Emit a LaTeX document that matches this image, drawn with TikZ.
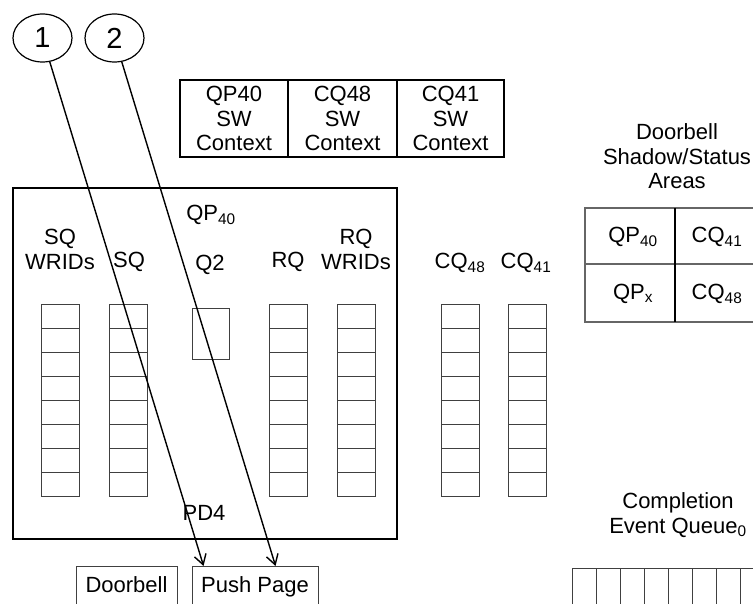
\documentclass[tikz,border=0pt]{standalone}
\usepackage{fontspec}
\setmainfont{Liberation Sans}
\usetikzlibrary{shapes.geometric,arrows.meta}
\begin{document}
\begin{tikzpicture}[x=1pt,y=-1pt,
  txt/.style={font=\fontsize{22}{24.5}\selectfont,align=center,inner sep=0pt},
  ctxbox/.style={txt,draw,line width=1.5pt,minimum width=#1,minimum height=77pt},
  tag/.style={txt,font=\fontsize{29}{32}\selectfont,draw,ellipse,line width=1.2pt,minimum width=59pt,minimum height=48pt},
  slot/.style={draw=black!75,line width=0.9pt},
  pagebox/.style={txt,draw=black!75,line width=0.9pt,anchor=north,inner ysep=5pt,text height=21.5pt,text depth=30pt},
  push/.style={-{Straight Barb[length=10pt,width=12pt]},line width=1.4pt}]
\useasboundingbox (0,0) rectangle (753,604);
\clip (0,0) rectangle (753,604);
\node[tag] (one) at (42.5,38) {1};
\node[tag] (two) at (114.5,38) {2};
\node[ctxbox=108pt] (qpctx)  at (234,118.5)   {QP40\\SW\\Context};
\node[ctxbox=109pt] (cqactx) at (342.5,118.5) {CQ48\\SW\\Context};
\node[ctxbox=107pt] (cqbctx) at (450.5,118.5) {CQ41\\SW\\Context};
\draw[line width=1.5pt] (13,188) rectangle (397,539);
\foreach \x in {41,109,269,337,441,508}
  \foreach \y in {304,328,...,472}
    \draw[slot] (\x,\y) rectangle ++(38,24);
\draw[slot] (192,308) rectangle (229,359);
\node[txt] (qplbl)  at (211,215)   {QP\textsubscript{40}};
\node[txt] (sqwlbl) at (60,249.5)  {SQ\\WRIDs};
\node[txt] (sqlbl)  at (129,262)   {SQ};
\node[txt] (q2lbl)  at (210,265)   {Q2};
\node[txt] (rqlbl)  at (288,262)   {RQ};
\node[txt] (rqwlbl) at (356,249.5) {RQ\\WRIDs};
\node[txt] (cqalbl) at (460,263)   {CQ\textsubscript{48}};
\node[txt] (cqblbl) at (526,263)   {CQ\textsubscript{41}};
\node[txt] (pdlbl)  at (204,513)   {PD4};
\node[txt] (shadow) at (677,156.5) {Doorbell\\Shadow/Status\\Areas};
\draw[line width=1.5pt,draw=black!60] (760,208) -- (585,208) -- (585,322) -- (760,322);
\draw[line width=1.5pt,draw=black!60] (585,264) -- (760,264);
\draw[line width=1.5pt] (675,208) -- (675,322);
\node[txt] (dbqp)  at (633,237) {QP\textsubscript{40}};
\node[txt] (dbcqb) at (717,237) {CQ\textsubscript{41}};
\node[txt] (dbqpx) at (633,294) {QP\textsubscript{x}};
\node[txt] (dbcqa) at (717,294) {CQ\textsubscript{48}};
\node[txt] (ceq) at (678,515) {Completion\\Event Queue\textsubscript{0}};
\foreach \x in {572,596,...,764}
  \draw[slot] (\x,568) rectangle ++(24,60);
\node[pagebox,minimum width=101pt] (bell) at (126.5,566) {Doorbell};
\node[pagebox,minimum width=126pt] (page) at (255,566) {Push Page};
\coordinate (pin1) at ([xshift=12pt]page.north west);
\coordinate (pin2) at ([xshift=84pt]page.north west);
\draw[push] (one) -- (pin1);
\draw[push] (two) -- (pin2);
\end{tikzpicture}
\end{document}
